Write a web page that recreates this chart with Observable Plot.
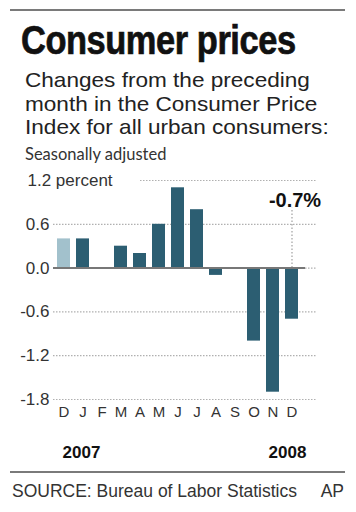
<!DOCTYPE html>
<html>
<head>
<meta charset="utf-8">
<script src="https://cdn.jsdelivr.net/npm/d3@7"></script>
<script src="https://cdn.jsdelivr.net/npm/@observablehq/plot@0.6"></script>
<style>
  html, body { margin: 0; padding: 0; background: #fff; }
  body { position: relative; width: 356px; height: 512px; overflow: hidden; font-family: "Liberation Sans", Arial, sans-serif; color: #222; }
  .abs { position: absolute; white-space: nowrap; }
  .rule { position: absolute; left: 10px; width: 335px; height: 2px; background: #7a7a7a; }
  #title { left: 21px; top: 20px; font-family: "Liberation Sans", Arial, sans-serif; font-weight: bold; font-size: 40px; line-height: 40px; color: #111; transform: scaleX(0.86); transform-origin: 0 0; letter-spacing: -0.5px; -webkit-text-stroke: 0.7px #111; }
  #sub { left: 25px; top: 68px; font-size: 21px; line-height: 23.5px; color: #222; transform: scaleX(1.075); transform-origin: 0 0; }
  #note { left: 25px; top: 146px; font-family: Lato, "Open Sans", sans-serif; font-size: 16.5px; line-height: 16px; color: #333; }
  #chart { left: 0; top: 160px; }
  #source { left: 12px; top: 483px; font-size: 17.5px; line-height: 17px; color: #333; }
  #ap { right: 12px; top: 483px; font-size: 17.5px; line-height: 17px; color: #333; }
</style>
</head>
<body>
<div class="rule" style="top:9px"></div>
<div id="title" class="abs">Consumer prices</div>
<div id="sub" class="abs">Changes from the preceding<br>month in the Consumer Price<br>Index for all urban consumers:</div>
<div id="note" class="abs">Seasonally adjusted</div>
<div id="chart" class="abs"></div>
<div class="rule" style="top:471px"></div>
<div id="source" class="abs">SOURCE: Bureau of Labor Statistics</div>
<div id="ap" class="abs">AP</div>
<script>
// ---- data ----
const months = ["D","J","F","M","A","M","J","J","A","S","O","N","D"];
const values = [0.4, 0.4, 0.0, 0.3, 0.2, 0.6, 1.1, 0.8, -0.1, 0.0, -1.0, -1.7, -0.7];
const tones  = ["light","dark","dark","dark","dark","dark","dark","dark","dark","dark","dark","dark","dark"];
const yTicks = [1.2, 0.6, 0.0, -0.6, -1.2, -1.8];
const yUnit = "percent";
const years = ["2007", "2008"];
const yearIndex = [0, 12];
const calloutIndex = 12;
const calloutTop = 0.82;

const data = months.map((m, i) => ({i, m, v: values[i], tone: tones[i]}));
const idx = d3.range(months.length);
const topTick = yTicks[0];
const lowerTicks = yTicks.slice(1);
const fmt = d => d.toFixed(1);

const chart = Plot.plot({
  width: 356,
  height: 300,
  marginTop: 20,
  marginBottom: 61,
  marginLeft: 53,
  marginRight: 39,
  style: {fontFamily: "'Liberation Sans', Arial, sans-serif", fontSize: "17px", color: "#333", background: "transparent", overflow: "visible"},
  x: {type: "band", domain: idx, range: [54, 301], paddingInner: 0.316, paddingOuter: 0.158, axis: null},
  y: {domain: [-1.8, 1.2], axis: null},
  color: {domain: ["light", "dark"], range: ["#a2c1cc", "#2c5e72"]},
  marks: [
    Plot.ruleY(lowerTicks, {stroke: "#b0b0b0", strokeWidth: 1.2, strokeDasharray: "1.5,1.5"}),
    Plot.ruleY([topTick], {stroke: "#b0b0b0", strokeWidth: 1.2, strokeDasharray: "1.5,1.5", insetLeft: 87}),
    Plot.ruleX([calloutIndex], {x: d => d, y1: 0, y2: calloutTop, stroke: "#a0a0a0", strokeWidth: 1.2, strokeDasharray: "1.5,2"}),
    Plot.barY(data, {x: "i", y: "v", fill: "tone"}),
    Plot.ruleY([0], {stroke: "#777", strokeWidth: 2, insetRight: 12}),
    Plot.axisY(lowerTicks, {label: null, tickSize: 0, tickPadding: 4, tickFormat: fmt, fontSize: 17, fill: "#333"}),
    Plot.text([topTick], {y: d => d, text: d => fmt(d) + " " + yUnit, frameAnchor: "left", textAnchor: "start", dx: -26, fontSize: 17, fill: "#333"}),
    Plot.axisX(idx, {label: null, tickSize: 0, tickPadding: 7, tickFormat: i => months[i], fontSize: 15, fill: "#333"}),
    Plot.text([0], {x: i => yearIndex[i], text: i => years[i], frameAnchor: "bottom", lineAnchor: "bottom", dy: 58, dx: 17.5, fontWeight: "bold", fontSize: 17, fill: "#111"}),
    Plot.text([1], {x: i => yearIndex[i], text: i => years[i], frameAnchor: "bottom", lineAnchor: "bottom", dy: 58, dx: -4.5, fontWeight: "bold", fontSize: 17, fill: "#111"}),
    Plot.text([calloutIndex], {x: d => d, y: calloutTop, text: d => values[d].toFixed(1) + "%", lineAnchor: "bottom", dy: -1, dx: 3, fontWeight: "bold", fontSize: 20, fill: "#111"})
  ]
});
document.getElementById("chart").appendChild(chart);
</script>
</body>
</html>
